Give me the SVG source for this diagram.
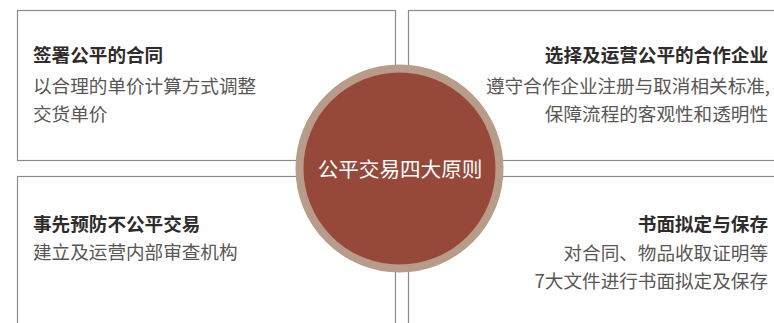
<svg xmlns="http://www.w3.org/2000/svg" width="774" height="323" viewBox="0 0 774 323">
<style>
.box{fill:#fff;stroke:#8c8c8c;stroke-width:1.2}
.t{font-family:"Noto Sans CJK SC","Noto Sans",sans-serif;font-size:18.6px;font-weight:bold;fill:#2f2b2a}
.b{font-family:"Noto Sans CJK SC","Noto Sans",sans-serif;font-size:18.6px;fill:#5a5654}
.r{text-anchor:end}
.c{font-family:"Noto Sans CJK SC","Noto Sans",sans-serif;font-size:20.6px;fill:#fff;text-anchor:middle}
</style>
<rect width="774" height="323" fill="#fff"/>
<g id="box-tl">
<rect class="box" x="17.5" y="10.5" width="378" height="150"/>
<text class="t" x="33" y="62">签署公平的合同</text>
<text class="b" x="33" y="93">以合理的单价计算方式调整</text>
<text class="b" x="33" y="121">交货单价</text>
</g>
<g id="box-tr">
<rect class="box" x="408.5" y="10.5" width="380" height="150"/>
<text class="t r" x="768" y="62">选择及运营公平的合作企业</text>
<text class="b r" x="770" y="93">遵守合作企业注册与取消相关标准,</text>
<text class="b r" x="768" y="121">保障流程的客观性和透明性</text>
</g>
<g id="box-bl">
<rect class="box" x="17.5" y="176.5" width="378" height="160"/>
<text class="t" x="33" y="231">事先预防不公平交易</text>
<text class="b" x="33" y="259">建立及运营内部审查机构</text>
</g>
<g id="box-br">
<rect class="box" x="408.5" y="176.5" width="380" height="160"/>
<text class="t r" x="768" y="231">书面拟定与保存</text>
<text class="b r" x="768" y="260">对合同、物品收取证明等</text>
<text class="b r" x="768" y="288">7大文件进行书面拟定及保存</text>
</g>
<g id="connectors"></g>
<g id="center">
<circle cx="399.5" cy="168.5" r="100" fill="#96493a" stroke="#b89c89" stroke-width="8"/>
<text class="c" x="400" y="177">公平交易四大原则</text>
</g>
</svg>
